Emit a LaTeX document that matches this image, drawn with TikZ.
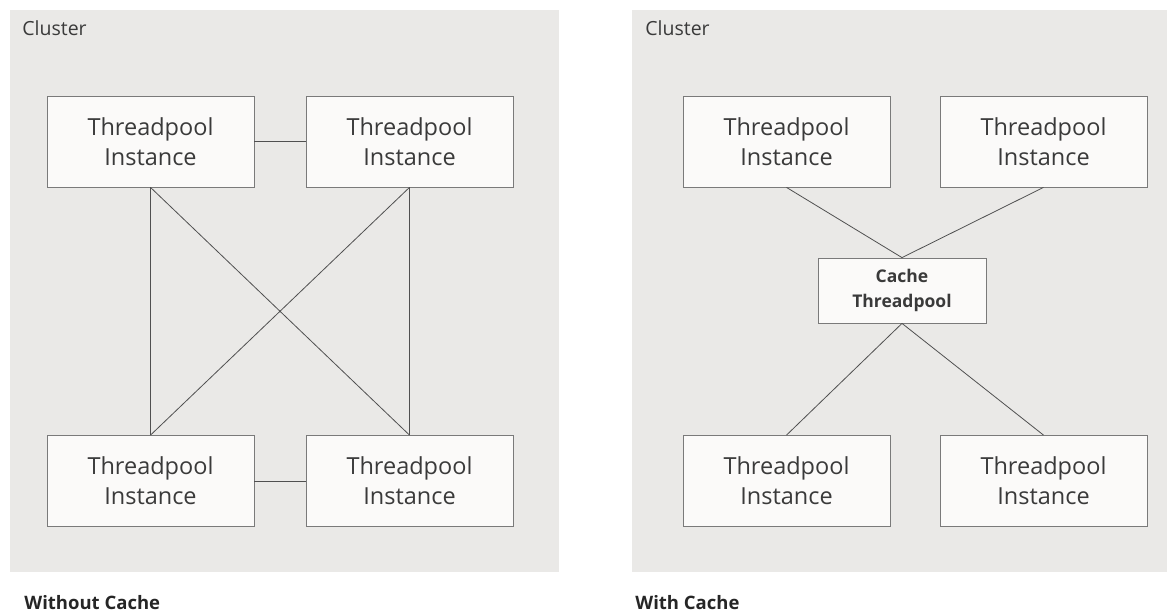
\documentclass[tikz,border=0pt]{standalone}
\usepackage{fontspec}
\setmainfont{Open Sans}
\usepackage{tikz}
\usetikzlibrary{arrows}
\definecolor{panel}{HTML}{EAE9E7}
\definecolor{boxfill}{HTML}{FBFAF9}
\definecolor{boxline}{HTML}{7A7A7A}
\definecolor{wire}{HTML}{505050}
\definecolor{txt}{HTML}{3A3A3A}
\begin{document}
\begin{tikzpicture}[x=1pt,y=-1pt,-,line width=0.8pt]
  \tikzstyle{inst}=[draw=boxline,fill=boxfill,minimum width=207pt,minimum height=91pt,
                    align=center,text=txt,font=\fontsize{23.5}{30}\selectfont]
  \tikzstyle{hub}=[inst,minimum width=168pt,minimum height=65pt,
                   font=\fontsize{17.5}{25}\selectfont\bfseries]
  \tikzstyle{caption}=[anchor=base west,inner sep=0pt,text=txt]

  \useasboundingbox (0,0) rectangle (1167,614);
  \fill[panel] (10,10) rectangle (559,572);
  \fill[panel] (632,10) rectangle (1167,572);

  \node[caption,font=\fontsize{19.5}{22}\selectfont] (clA) at (22,35) {Cluster};
  \node[caption,font=\fontsize{19.5}{22}\selectfont] (clB) at (645,35) {Cluster};
  \node[caption,font=\fontsize{18.5}{22}\selectfont\bfseries,text=black!85] (capA) at (24,609) {Without Cache};
  \node[caption,font=\fontsize{18.5}{22}\selectfont\bfseries,text=black!85] (capB) at (635,609) {With Cache};

  % without cache
  \node[inst] (A) at (150.5,141.5) {Threadpool\\Instance};
  \node[inst] (B) at (409.5,141.5) {Threadpool\\Instance};
  \node[inst] (C) at (150.5,481)   {Threadpool\\Instance};
  \node[inst] (D) at (409.5,481)   {Threadpool\\Instance};

  \path[draw=wire] (A) edge (B)
        (C) edge (D)
        (A.south) edge (C.north)
        (B.south) edge (D.north)
        (A.south) edge (D.north)
        (B.south) edge (C.north);

  % with cache
  \node[inst] (E) at (786.5,141.5)  {Threadpool\\Instance};
  \node[inst] (F) at (1043.5,141.5) {Threadpool\\Instance};
  \node[hub]  (H) at (902,290.5)    {Cache\\Threadpool};
  \node[inst] (G) at (786.5,481)    {Threadpool\\Instance};
  \node[inst] (K) at (1043.5,481)   {Threadpool\\Instance};

  \path[draw=wire] (E.south) edge (H.north)
        (F.south) edge (H.north)
        (H.south) edge (G.north)
        (H.south) edge (K.north);
\end{tikzpicture}
\end{document}
